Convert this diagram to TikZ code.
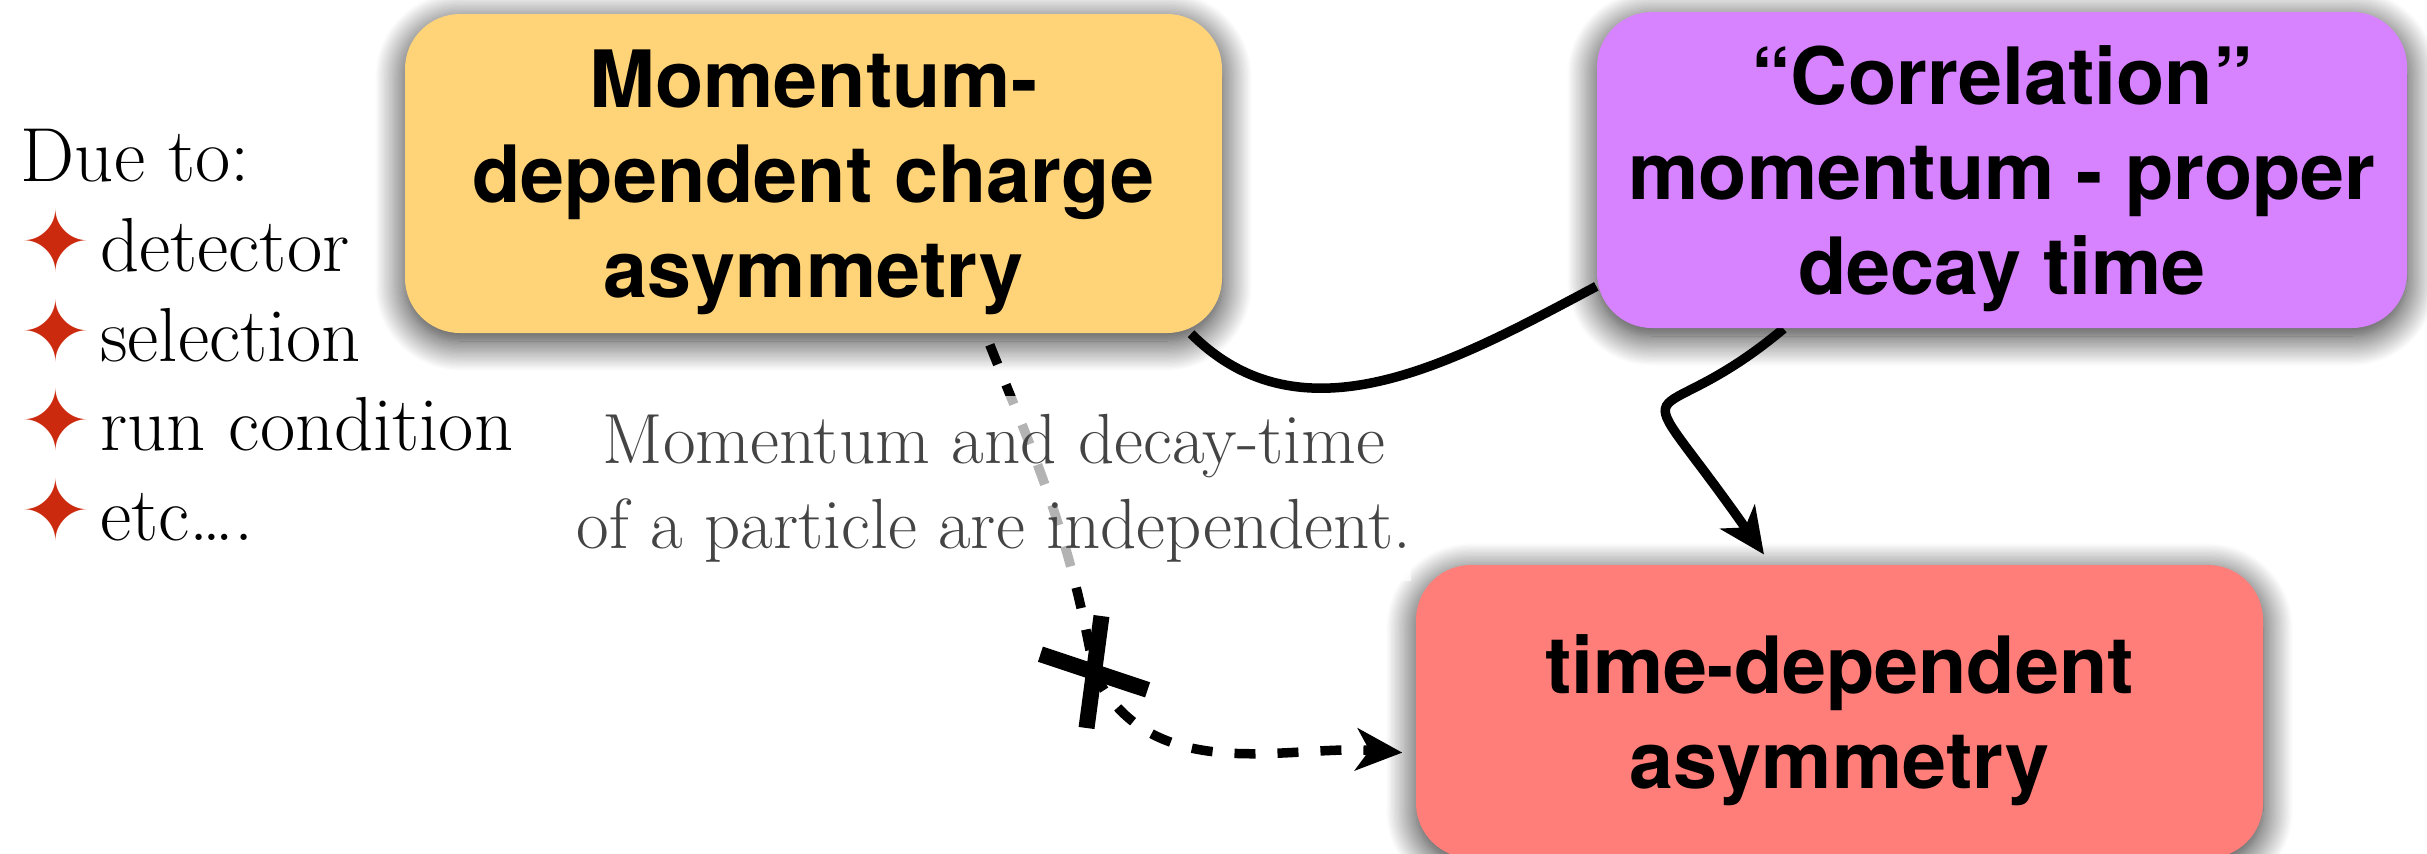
\documentclass[tikz,border=0pt]{standalone}
\usepackage{fontspec}
\setsansfont{TeX Gyre Heros}
\newfontfamily\starfont{DejaVu Sans}
\usetikzlibrary{positioning,arrows.meta,shapes.misc,shadows.blur,backgrounds}
\definecolor{ink}       {HTML}{000000}
\definecolor{cantaloupe}{HTML}{FFD479}
\definecolor{lavender}  {HTML}{D783FF}
\definecolor{salmon}    {HTML}{FF7E79}
\definecolor{starred}   {HTML}{CC2A0E}
\definecolor{softink}   {HTML}{444444}
\tikzset{
  >={Stealth[length=4.6mm,width=4.2mm,inset=1.3mm]},
  % --- nodes
  box/.style    = {rounded corners=5.5mm, align=center, inner sep=0pt, text depth=0pt,
                   font=\fontsize{22.5}{27}\selectfont\sffamily\bfseries,
                   blur shadow={shadow xshift=0mm, shadow yshift=-0.8mm,
                                shadow blur radius=3mm, shadow blur steps=24,
                                shadow opacity=85}},
  mom/.style    = {box, fill=cantaloupe, minimum width=8.17cm, minimum height=3.19cm},
  corr/.style   = {box, fill=lavender, minimum width=8.10cm, minimum height=3.16cm},
  tasym/.style  = {box, fill=salmon, minimum width=8.47cm, minimum height=2.93cm},
  causes/.style = {align=left, inner sep=0pt, font=\fontsize{21.8}{25.6}\selectfont},
  note/.style   = {align=center, inner xsep=0pt, text=softink, fill=white,
                   fill opacity=0.7, text opacity=1, minimum height=1.85cm,
                   font=\fontsize{20.2}{24.2}\selectfont},
  xmark/.style  = {cross out, draw=ink, line width=1.6mm, inner sep=0pt,
                   minimum width=5.6mm, minimum height=7.1mm, rotate=32},
  % --- edges
  e/.style      = {draw=ink, line width=0.95mm},
  ed/.style     = {e, dash pattern=on 2.1mm off 2.2mm},
}
\newcommand{\cause}{{\color{starred}\starfont\fontsize{24}{25.6}\selectfont ✦}\hspace{0.9mm}}
\begin{document}
\begin{tikzpicture}
  \useasboundingbox (0,0) rectangle (24.27,-8.53);

  \node[causes, anchor=north west] (due) at (0.20,-1.28)
    {Due to:\\ \cause detector\\ \cause selection\\ \cause run condition\\ \cause etc\ldots.};

  \node[mom] (mom) at (8.135,-1.735) {Momentum-\\dependent charge\\asymmetry};
  \node[corr] (corr) at (20.02,-1.70) {“Correlation”\\momentum - proper\\decay time};
  \node[tasym] (tasym) at (18.395,-7.115) {time-dependent\\asymmetry};

  \node[xmark] (cut) at (10.94,-6.72) {};

  \begin{scope}[on background layer]
    \draw[e] (mom.337) to[out=-45,in=208] (corr.196);
    \draw[e,->,shorten >=1.2mm] (corr.216) .. controls +(220:1.8) and +(125:2.6) .. (tasym.115);
    \draw[ed,->,shorten <=1.2mm,shorten >=1.3mm] (mom.317) to[out=-68,in=100] (cut.center)
      to[out=-64,in=176] ([yshift=-4.2mm]tasym.west);
  \end{scope}

  \node[note] (indep) at (9.94,-4.88)
    {Momentum and decay-time\\of a particle are independent.};
\end{tikzpicture}
\end{document}
